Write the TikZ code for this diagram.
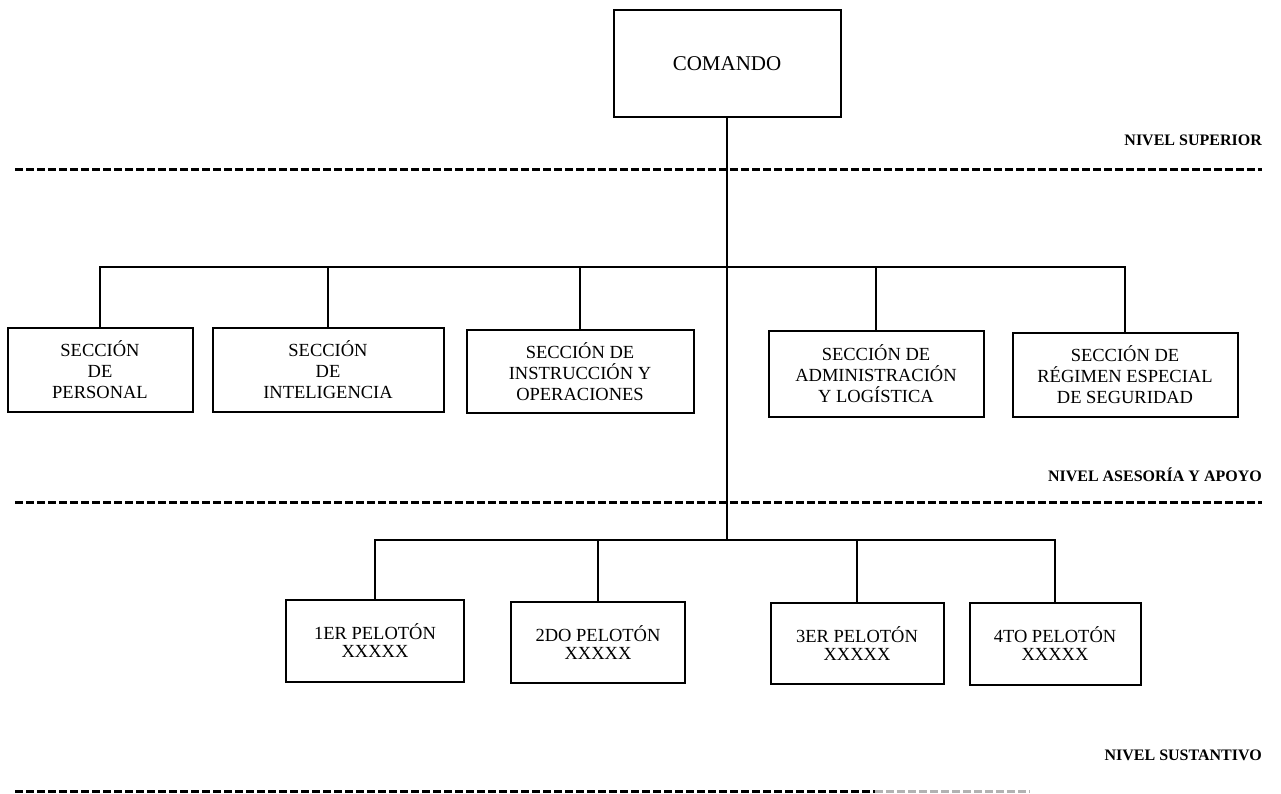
\documentclass[tikz,border=0pt]{standalone}
\usepackage{fontspec}
\setmainfont{Liberation Serif}
\begin{document}
\begin{tikzpicture}[x=1pt,y=-1pt,
  unitbox/.style={draw, line width=2pt, inner sep=0pt, align=center,
    font=\fontsize{18.5}{21}\selectfont},
  platoon/.style={unitbox, font=\fontsize{18.5}{18}\selectfont},
  link/.style={line width=2pt},
  levelrule/.style={line width=3pt, dash pattern=on 7.5pt off 3.5pt},
  levelname/.style={anchor=base east, inner sep=0pt,
    font=\fontsize{16}{18}\selectfont\bfseries}]
\useasboundingbox (0,0) rectangle (1281,794);

% command
\node[unitbox, minimum width=227pt, minimum height=107pt,
      font=\fontsize{21}{24}\selectfont] (cmd) at (727,63.5) {COMANDO};

% staff sections
\node[unitbox, minimum width=185pt, minimum height=84pt] (s1) at (100,370) {SECCIÓN\\DE\\PERSONAL};
\node[unitbox, minimum width=231pt, minimum height=84pt] (s2) at (328,370) {SECCIÓN\\DE\\INTELIGENCIA};
\node[unitbox, minimum width=227pt, minimum height=83pt] (s3) at (580,371.5) {SECCIÓN DE\\INSTRUCCIÓN Y\\OPERACIONES};
\node[unitbox, minimum width=215pt, minimum height=86pt] (s4) at (876,374) {SECCIÓN DE\\ADMINISTRACIÓN\\Y LOGÍSTICA};
\node[unitbox, minimum width=225pt, minimum height=84pt] (s5) at (1125,375) {SECCIÓN DE\\RÉGIMEN ESPECIAL\\DE SEGURIDAD};

% platoons
\node[platoon, minimum width=178pt, minimum height=82pt] (p1) at (375,641) {1ER PELOTÓN\\XXXXX};
\node[platoon, minimum width=174pt, minimum height=81pt] (p2) at (598,642.5) {2DO PELOTÓN\\XXXXX};
\node[platoon, minimum width=173pt, minimum height=81pt] (p3) at (857,643.5) {3ER PELOTÓN\\XXXXX};
\node[platoon, minimum width=171pt, minimum height=82pt] (p4) at (1055,644) {4TO PELOTÓN\\XXXXX};

% bus levels
\coordinate (sbus) at (727,267);
\coordinate (pbus) at (727,540);

% trunk
\draw[link] (cmd.south) -- (pbus);

% section bus and drops
\draw[link] (s1.north) -- (s1.north |- sbus) -- (s5.north |- sbus) -- (s5.north);
\foreach \s in {s2,s3,s4}
  \draw[link] (\s.north) -- (\s.north |- sbus);

% platoon bus and drops
\draw[link] (p1.north) -- (p1.north |- pbus) -- (p4.north |- pbus) -- (p4.north);
\foreach \p in {p2,p3}
  \draw[link] (\p.north) -- (\p.north |- pbus);

% level separators
\coordinate (r1a) at (15,170);  \coordinate (r1b) at (1262,170);
\coordinate (r2a) at (15,502);  \coordinate (r2b) at (1262,502);
\coordinate (r3a) at (15,791.5); \coordinate (r3m) at (875,791.5); \coordinate (r3b) at (1030,791.5);
\draw[levelrule] (r1a) -- (r1b);
\draw[levelrule] (r2a) -- (r2b);
\draw[levelrule] (r3a) -- (r3m);
\draw[levelrule, black!30] (r3m) -- (r3b);

% level names
\node[levelname] (n1) at (1262,146) {NIVEL SUPERIOR};
\node[levelname] (n2) at (1262,481) {NIVEL ASESORÍA Y APOYO};
\node[levelname] (n3) at (1262,760) {NIVEL SUSTANTIVO};
\end{tikzpicture}
\end{document}
